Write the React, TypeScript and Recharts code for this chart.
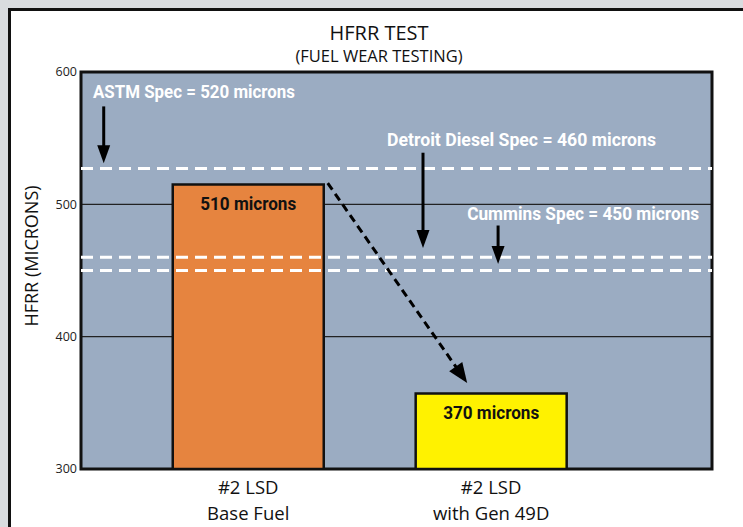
import React from "react";
import {
  BarChart,
  Bar,
  XAxis,
  YAxis,
  CartesianGrid,
  ReferenceLine,
  ReferenceDot,
  ReferenceArea,
  LabelList,
  Cell,
} from "recharts";

// values
const categories = ["#2 LSD|Base Fuel", "#2 LSD|with Gen 49D"];
const hfrr = [515, 357];
const barLabels = ["510 microns", "370 microns"];
const barColors = ["#E6843F", "#FFF200"];
const yTicks = [300, 400, 500, 600];
const specLevels = [527, 460, 450];

// layout: x is % of plot width, y is microns
const categoryX = [26.5, 65.0];
const specTexts = [
  { x: 1.9, y: 585, w: 202, text: "ASTM Spec = 520 microns" },
  { x: 48.5, y: 549, w: 269, text: "Detroit Diesel Spec = 460 microns" },
  { x: 61.2, y: 493, w: 232, text: "Cummins Spec = 450 microns" },
];
const specArrows = [
  { x: 3.6, from: 574, to: 531 },
  { x: 54.2, from: 539, to: 467 },
  { x: 66.1, from: 484, to: 455 },
];
const trendArrow = { x1: 39.1, y1: 516, x2: 61.2, y2: 365 };

const data = categories.map((name, i) => ({
  name,
  x: categoryX[i],
  value: hfrr[i],
  label: barLabels[i],
}));

const SANS = "'Open Sans', 'Noto Sans', sans-serif";
const BOLD = "Roboto, 'Liberation Sans', sans-serif";

function Arrow(props: any) {
  const { x1, y1, x2, y2, dashed, head = 18, wing = 6.5 } = props;
  const dx = x2 - x1;
  const dy = y2 - y1;
  const len = Math.sqrt(dx * dx + dy * dy) || 1;
  const ux = dx / len;
  const uy = dy / len;
  const bx = x2 - ux * head;
  const by = y2 - uy * head;
  const pts = `${x2},${y2} ${bx - uy * wing},${by + ux * wing} ${bx + uy * wing},${by - ux * wing}`;
  return (
    <g>
      <line
        x1={x1}
        y1={y1}
        x2={bx + ux * 2}
        y2={by + uy * 2}
        stroke="#000"
        strokeWidth={3}
        strokeDasharray={dashed ? "8 5" : undefined}
      />
      <polygon points={pts} fill="#000" />
    </g>
  );
}

function CategoryTick(props: any) {
  const { x, y, payload } = props;
  const idx = categoryX.indexOf(payload.value);
  const [l1, l2] = (categories[idx] || "").split("|");
  return (
    <text x={x} y={y} textAnchor="middle" fontFamily={SANS} fontSize={18.5} fill="#111">
      <tspan x={x} dy={17}>{l1}</tspan>
      <tspan x={x} dy={26}>{l2}</tspan>
    </text>
  );
}

function BarLabel(props: any) {
  const { x, y, width, value } = props;
  return (
    <text
      x={x + width / 2}
      y={y + 19}
      textAnchor="middle"
      dominantBaseline="central"
      fontFamily={BOLD}
      fontWeight="bold"
      fontSize={19}
      fill="#111"
      textLength={96}
      lengthAdjust="spacingAndGlyphs"
    >
      {value}
    </text>
  );
}

export default function App() {
  return (
    <div style={{ position: "absolute", left: 0, top: 0, width: 743, height: 527, background: "#D9DCDF", overflow: "hidden" }}>
      <div
        style={{
          position: "absolute",
          left: 8,
          top: 8,
          right: 0,
          bottom: 0,
          background: "#fff",
          borderTop: "3px solid #111",
          borderLeft: "3px solid #111",
        }}
      />
      <div style={{ position: "absolute", left: 279, width: 200, top: 23, textAlign: "center", fontFamily: SANS, fontSize: 20, color: "#111", lineHeight: "20px" }}>
        HFRR TEST
      </div>
      <div style={{ position: "absolute", left: 229, width: 300, top: 47, textAlign: "center", fontFamily: SANS, fontSize: 16.5, color: "#111", lineHeight: "18px" }}>
        (FUEL WEAR TESTING)
      </div>
      <div style={{ position: "absolute", left: 0, top: 0 }}>
        <BarChart width={743} height={527} data={data} margin={{ top: 72, right: 31, left: 21, bottom: 0 }}>
          <CartesianGrid fill="#9BACC2" stroke="#222" strokeWidth={1.2} vertical={false} horizontalValues={[400, 500]} />
          <XAxis
            dataKey="x"
            type="number"
            domain={[0, 100]}
            allowDataOverflow
            ticks={categoryX}
            height={58}
            axisLine={false}
            tickLine={false}
            tick={<CategoryTick />}
            interval={0}
          />
          <YAxis
            width={60}
            domain={[300, 600]}
            ticks={yTicks}
            allowDataOverflow
            axisLine={false}
            tickLine={false}
            tickSize={2}
            tickMargin={2}
            tick={{ fontSize: 12.5, fontFamily: SANS, fill: "#222" }}
            label={{
              content: () => (
                <text
                  x={31}
                  y={256}
                  transform="rotate(-90 31 256)"
                  textAnchor="middle"
                  dominantBaseline="central"
                  fontFamily={SANS}
                  fontSize={18}
                  fill="#111"
                >
                  HFRR (MICRONS)
                </text>
              ),
            }}
          />
          {specLevels.map((v) => (
            <ReferenceLine key={v} y={v} stroke="#fff" strokeWidth={3} strokeDasharray="12 7" />
          ))}
          <Bar dataKey="value" barSize={151} stroke="#111" strokeWidth={2.5} isAnimationActive={false}>
            {data.map((d, i) => (
              <Cell key={d.name} fill={barColors[i]} />
            ))}
            <LabelList dataKey="label" content={<BarLabel />} />
          </Bar>
          {specArrows.map((a) => (
            <ReferenceLine
              key={a.x}
              segment={[
                { x: a.x, y: a.from },
                { x: a.x, y: a.to },
              ]}
              shape={(p: any) => <Arrow {...p} />}
            />
          ))}
          <ReferenceLine
            segment={[
              { x: trendArrow.x1, y: trendArrow.y1 },
              { x: trendArrow.x2, y: trendArrow.y2 },
            ]}
            shape={(p: any) => <Arrow {...p} dashed head={20} wing={8} />}
          />
          {specTexts.map((t) => (
            <ReferenceDot
              key={t.text}
              x={t.x}
              y={t.y}
              r={1}
              shape={(p: any) => (
                <text
                  x={p.cx}
                  y={p.cy}
                  dominantBaseline="central"
                  fontFamily={BOLD}
                  fontWeight="bold"
                  fontSize={19}
                  fill="#fff"
                  textLength={t.w}
                  lengthAdjust="spacingAndGlyphs"
                >
                  {t.text}
                </text>
              )}
            />
          ))}
          <ReferenceArea x1={0} x2={100} y1={300} y2={600} fill="none" stroke="#111" strokeWidth={3} ifOverflow="visible" />
        </BarChart>
      </div>
    </div>
  );
}
